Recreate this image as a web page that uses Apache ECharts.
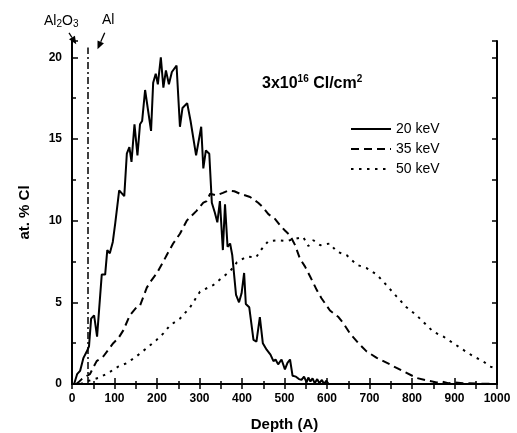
<!DOCTYPE html>
<html>
<head>
<meta charset="utf-8">
<script src="https://cdn.jsdelivr.net/npm/echarts@6/dist/echarts.min.js"></script>
<style>
  html, body { margin: 0; padding: 0; background: #fff; }
  #chart { width: 517px; height: 433px; }
</style>
</head>
<body>
<div id="chart"></div>
<script>
// 20 keV profile
const depth20 = [0, 5, 12, 19, 27, 35, 40, 45, 52, 59, 70, 78, 83, 89, 96, 102, 108, 111, 123, 129, 135, 140, 147, 154, 160, 165, 172, 186, 191, 197, 202, 209, 215, 221, 228, 235, 246, 254, 260, 271, 279, 292, 304, 309, 315, 323, 329, 336, 342, 348, 355, 360, 366, 372, 377, 386, 393, 399, 405, 409, 417, 427, 434, 442, 449, 458, 467, 474, 479, 485, 493, 501, 507, 513, 519, 527, 534, 540, 546, 552, 556, 561, 566, 571, 577, 582, 588, 593, 598, 604];
const cl20 = [0, 0, 0.6, 0.8, 1.6, 2.0, 2.3, 4.0, 4.2, 2.9, 6.7, 6.7, 8.2, 8.0, 8.7, 9.9, 11.2, 11.85, 11.5, 14.1, 14.5, 13.6, 15.9, 14.0, 15.9, 16.1, 18.0, 15.5, 18.45, 19.0, 18.35, 20.0, 18.15, 19.2, 18.35, 19.1, 19.5, 15.75, 16.9, 17.2, 16.1, 14.0, 15.75, 13.2, 14.3, 14.1, 11.1, 10.5, 9.9, 11.2, 8.2, 11.0, 8.4, 8.6, 7.9, 5.45, 5.0, 5.55, 6.8, 4.9, 4.7, 2.7, 2.6, 4.1, 2.5, 2.1, 1.8, 1.4, 1.5, 1.2, 1.5, 0.9, 1.3, 1.5, 0.5, 0.45, 0.3, 0.25, 0.45, 0.1, 0.4, 0.15, 0.35, 0.05, 0.3, 0.05, 0.25, 0, 0.2, 0];

// 35 keV profile
const depth35 = [10, 15, 23, 42, 58, 74, 97, 109, 121, 136, 152, 160, 176, 187, 200, 215, 223, 238, 254, 270, 293, 309, 317, 325, 340, 355, 368, 382, 395, 419, 438, 450, 462, 478, 490, 501, 513, 525, 536, 548, 560, 576, 587, 607, 627, 639, 654, 674, 693, 717, 748, 780, 811, 834, 858, 870, 885, 900, 920, 960, 1000];
const cl35 = [0, 0.1, 0.3, 0.6, 1.4, 1.7, 2.5, 2.8, 3.3, 4.2, 4.7, 4.8, 5.9, 6.35, 6.8, 7.5, 7.9, 8.6, 9.2, 10.0, 10.6, 11.1, 11.2, 11.65, 11.55, 11.7, 11.85, 11.8, 11.65, 11.45, 11.1, 10.8, 10.4, 10.1, 9.7, 9.4, 9.1, 8.5, 7.7, 7.2, 6.6, 5.75, 5.25, 4.5, 4.1, 3.7, 3.1, 2.5, 2.0, 1.6, 1.2, 0.77, 0.37, 0.22, 0.1, 0.15, 0.05, 0.1, 0.05, 0.02, 0];

// 50 keV profile
const depth50 = [20, 35, 62, 85, 109, 129, 152, 176, 199, 215, 231, 254, 278, 301, 320, 332, 348, 372, 388, 411, 433, 446, 462, 483, 505, 527, 544, 556, 568, 584, 607, 623, 646, 670, 693, 717, 740, 764, 787, 811, 850, 874, 897, 920, 944, 967, 983, 1000];
const cl50 = [0, 0.16, 0.37, 0.67, 1.07, 1.28, 1.7, 2.2, 2.7, 3.1, 3.6, 4.0, 4.7, 5.65, 5.9, 6.05, 6.4, 6.9, 7.45, 7.8, 7.75, 8.25, 8.75, 8.8, 8.75, 8.9, 9.0, 8.45, 8.8, 8.5, 8.6, 8.1, 7.9, 7.3, 7.1, 6.7, 6.05, 5.35, 4.7, 4.2, 3.2, 2.9, 2.5, 2.1, 1.7, 1.4, 1.07, 0.95];

const seriesNames = ['20 keV', '35 keV', '50 keV'];
const interfaceDepth = 36;

const FONT = "'Liberation Sans', Arial, sans-serif";
const zip = (xs, ys) => xs.map((x, i) => [x, ys[i]]);

const chart = echarts.init(document.getElementById('chart'));

const option = {
    animation: false,
    backgroundColor: '#fff',
    grid: { left: 72, right: 20, top: 41, bottom: 49, outerBoundsMode: 'none', containLabel: false },
    legend: {
        orient: 'vertical',
        left: 350,
        top: 122,
        padding: 0,
        itemWidth: 40,
        itemHeight: 14,
        itemGap: 6,
        itemStyle: { opacity: 0 },
        textStyle: { fontFamily: FONT, fontSize: 14, color: '#000' },
        data: seriesNames
    },
    title: {
        left: 262,
        top: 74,
        padding: 0,
        text: '{a|3x10}{s|16}{a| Cl/cm}{s|2}',
        textStyle: {
            rich: {
                a: { fontFamily: FONT, fontSize: 16, fontWeight: 'bold', color: '#000', lineHeight: 20 },
                s: { fontFamily: FONT, fontSize: 10, fontWeight: 'bold', color: '#000', verticalAlign: 'top', lineHeight: 10 }
            }
        }
    },
    xAxis: [{
        type: 'value', position: 'bottom', min: 0, max: 1000, interval: 100,
        name: 'Depth (A)', nameLocation: 'middle', nameGap: 33,
        nameTextStyle: { fontFamily: FONT, fontSize: 15, fontWeight: 'bold', color: '#000' },
        axisLine: { lineStyle: { color: '#000', width: 2 } },
        axisTick: { inside: true, length: 6, lineStyle: { color: '#000', width: 1.5 } },
        minorTick: { show: true, splitNumber: 2, length: 3, lineStyle: { color: '#000', width: 1.5 } },
        axisLabel: {
            fontFamily: FONT, fontSize: 12, fontWeight: 'bold', color: '#000', margin: 9,
            formatter: v => String(v)
        },
        splitLine: { show: false }
    }, {
        type: 'value', position: 'top', min: 0, max: 1000, interval: 50,
        axisLine: { lineStyle: { color: '#000', width: 2 } },
        axisTick: { inside: true, length: 5, lineStyle: { color: '#000', width: 1.5 } },
        axisLabel: { show: false },
        splitLine: { show: false }
    }],
    yAxis: [{
        type: 'value', position: 'left', min: 0, max: 21, interval: 5,
        name: 'at. % Cl', nameLocation: 'middle', nameGap: 40,
        nameTextStyle: { fontFamily: FONT, fontSize: 15, fontWeight: 'bold', color: '#000' },
        axisLine: { lineStyle: { color: '#000', width: 2 } },
        axisTick: { inside: true, length: 6, lineStyle: { color: '#000', width: 1.5 } },
        axisLabel: {
            fontFamily: FONT, fontSize: 12, fontWeight: 'bold', color: '#000', margin: 10,
            formatter: v => (v % 5 === 0 ? String(v) : '')
        },
        splitLine: { show: false }
    }, {
        type: 'value', position: 'left', min: 0, max: 21, interval: 2.5,
        axisLine: { show: false },
        axisTick: { inside: true, length: 4, lineStyle: { color: '#000', width: 1.5 } },
        axisLabel: { show: false },
        splitLine: { show: false }
    }, {
        type: 'value', position: 'right', min: 0, max: 21, interval: 2.5,
        axisLine: { lineStyle: { color: '#000', width: 2 } },
        axisTick: { inside: true, length: 5, lineStyle: { color: '#000', width: 1.5 } },
        axisLabel: { show: false },
        splitLine: { show: false }
    }],
    series: [{
        name: seriesNames[0], type: 'line', data: zip(depth20, cl20),
        symbol: 'none', color: '#000',
        lineStyle: { color: '#000', width: 2, type: 'solid' },
        markLine: {
            silent: true, symbol: 'none', animation: false,
            label: { show: false },
            lineStyle: { color: '#000', width: 1.5, type: [7, 3, 2, 3] },
            data: [[{ coord: [interfaceDepth, 0] }, { coord: [interfaceDepth, 20.6] }]]
        }
    }, {
        name: seriesNames[1], type: 'line', data: zip(depth35, cl35),
        symbol: 'none', color: '#000',
        lineStyle: { color: '#000', width: 2, type: [8, 5] }
    }, {
        name: seriesNames[2], type: 'line', data: zip(depth50, cl50),
        symbol: 'none', color: '#000',
        lineStyle: { color: '#000', width: 2, type: [2.5, 5.5] }
    }]
};

chart.setOption(option);

// Al2O3 / Al arrows, placed through the axes
function arrow(from, to) {
    const p0 = chart.convertToPixel({ gridIndex: 0 }, from);
    const p1 = chart.convertToPixel({ gridIndex: 0 }, to);
    const dx = p1[0] - p0[0], dy = p1[1] - p0[1];
    const len = Math.hypot(dx, dy);
    const ux = dx / len, uy = dy / len;
    const hl = 8, hw = 3.5;
    const bx = p1[0] - ux * hl, by = p1[1] - uy * hl;
    return [{
        type: 'polyline', silent: true,
        shape: { points: [p0, [bx, by]] },
        style: { stroke: '#000', lineWidth: 1.3, fill: null }
    }, {
        type: 'polygon', silent: true,
        shape: { points: [p1, [bx - uy * hw, by + ux * hw], [bx + uy * hw, by - ux * hw]] },
        style: { fill: '#000' }
    }];
}

const labelRich = {
    a: { fontFamily: FONT, fontSize: 14, fill: '#000' },
    b: { fontFamily: FONT, fontSize: 10, fill: '#000', verticalAlign: 'bottom', padding: [6, 0, 0, 0] }
};

chart.setOption({
    graphic: [
        ...arrow([-7, 21.5], [10, 20.8]),
        ...arrow([77, 21.5], [60, 20.5]),
        {
            type: 'text', left: 44, top: 14, silent: true,
            style: { text: '{a|Al}{b|2}{a|O}{b|3}', rich: labelRich }
        },
        {
            type: 'text', left: 102, top: 13, silent: true,
            style: { text: '{a|Al}', rich: labelRich }
        }
    ]
});
</script>
</body>
</html>
